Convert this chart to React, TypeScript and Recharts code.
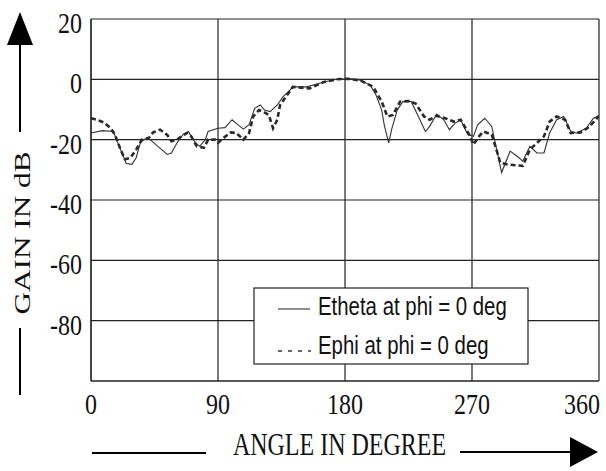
import React from "react";
import { LineChart, Line, XAxis, YAxis, CartesianGrid } from "recharts";

const thetaAngle = [0, 8, 16, 18, 22, 25, 29, 32, 35, 38, 42, 48, 54, 57, 61, 65, 69, 71, 74, 77, 81, 83, 90, 95, 100, 104, 108, 112, 116, 120, 123, 127, 132, 136, 141, 143, 153, 165, 174, 184, 191, 198, 202, 206, 208, 211, 213, 217, 221, 227, 232, 237, 240, 245, 250, 254, 258, 262, 267, 271, 274, 279, 284, 287, 291, 297, 302, 306, 311, 316, 321, 325, 330, 335, 340, 344, 351, 356, 360];
const thetaGain = [-17.8, -17, -17.3, -20, -24.4, -27.9, -28.2, -26, -21, -19.8, -20, -22.5, -24.9, -24.4, -21, -18.4, -17.3, -18.9, -21, -22.2, -20, -17.3, -16.2, -16, -13.4, -15, -16.5, -15, -9.6, -8.5, -10.2, -10.7, -8.5, -5.8, -3.6, -2.5, -2.5, -0.9, 0, 0.2, -0.3, -2, -5.2, -10.2, -15.6, -21.1, -16.7, -10.2, -7.4, -7.4, -12.3, -17.3, -15.6, -11.5, -13.4, -16.7, -14.5, -13.4, -18.3, -18.9, -15.1, -12.9, -15.6, -22.2, -30.9, -23.8, -25.5, -27.1, -22.2, -24.4, -24.4, -17.8, -13.4, -12.3, -17.3, -17.8, -16.2, -12.9, -12.1];

const phiAngle = [0, 4, 9, 14, 17, 21, 24, 28, 32, 36, 41, 44, 49, 54, 57, 61, 64, 68, 71, 75, 80, 83, 88, 90, 94, 99, 103, 108, 112, 115, 119, 122, 126, 129, 132, 134, 139, 143, 155, 165, 174, 182, 191, 200, 206, 210, 214, 219, 225, 230, 236, 240, 245, 251, 257, 262, 268, 271, 275, 278, 284, 288, 290, 295, 301, 306, 311, 316, 321, 325, 330, 336, 340, 347, 353, 360];
const phiGain = [-12.9, -13.4, -14.3, -16.2, -18.4, -23.3, -26.5, -26, -23.3, -20, -19.4, -17.6, -16.7, -18.4, -20.5, -20, -18.9, -17.8, -18.9, -22.2, -22.7, -20, -20, -21.1, -19.4, -17.6, -17.8, -20, -17.8, -12.3, -10.2, -10.7, -11.8, -16.2, -13.4, -8.5, -5.2, -2.5, -3, -0.9, 0, 0.2, -0.4, -2.5, -7.4, -12.3, -11.8, -7.4, -7.2, -8, -12.3, -13.4, -12.1, -12.9, -14, -13.4, -18.3, -21.6, -18.9, -17.3, -18.3, -24.4, -27.6, -28.2, -28.5, -28.7, -23.3, -21.1, -18.9, -14, -12.3, -13.4, -17.8, -17.6, -15.8, -12.1];

const xTicks = [0, 90, 180, 270, 360];
const yTicks = [20, 0, -20, -40, -60, -80];
const seriesNames = ["Etheta at phi = 0 deg", "Ephi at phi = 0 deg"];
const xTitle = "ANGLE IN DEGREE";
const yTitle = "GAIN IN dB";

const thetaData = thetaAngle.map((a, i) => ({ angle: a, gain: thetaGain[i] }));
const phiData = phiAngle.map((a, i) => ({ angle: a, gain: phiGain[i] }));

const SERIF = "'Liberation Serif', 'Times New Roman', serif";
const SANS = "'Liberation Sans', Arial, sans-serif";

const XTick = (props: any) => {
  const { x, y, payload } = props;
  const isLast = payload.value === 360;
  const tx = isLast ? 600 : x;
  return (
    <text
      transform={`translate(${tx},${y + 33}) scale(1,1.25)`}
      x={0}
      y={0}
      textAnchor={isLast ? "end" : "middle"}
      fontFamily={SERIF}
      fontSize={24}
      fill="#111"
    >
      {payload.value}
    </text>
  );
};

const YTick = (props: any) => {
  const { x, y, payload } = props;
  return (
    <text
      transform={`translate(${x},${y + 14}) scale(1,1.25)`}
      x={0}
      y={0}
      textAnchor="end"
      fontFamily={SERIF}
      fontSize={24}
      fill="#111"
    >
      {payload.value}
    </text>
  );
};

export default function App() {
  return (
    <div style={{ position: "absolute", left: 0, top: 0, width: 606, height: 471, background: "#fff" }}>
      <LineChart
        width={606}
        height={471}
        margin={{ top: 19, right: 7, left: 0, bottom: 0 }}
        style={{ background: "#fff" }}
      >
        <CartesianGrid stroke="#222" strokeWidth={1.2} />
        <XAxis
          type="number"
          dataKey="angle"
          domain={[0, 360]}
          ticks={xTicks}
          height={90}
          tickLine={false}
          tickSize={0}
          tickMargin={0}
          axisLine={{ stroke: "#222", strokeWidth: 1.2 }}
          tick={<XTick />}
          interval={0}
          allowDataOverflow
        />
        <YAxis
          type="number"
          domain={[-100, 20]}
          ticks={yTicks}
          width={91}
          tickLine={false}
          tickSize={0}
          tickMargin={9}
          axisLine={{ stroke: "#222", strokeWidth: 1.2 }}
          tick={<YTick />}
          interval={0}
          allowDataOverflow
        />
        <Line
          data={thetaData}
          dataKey="gain"
          name={seriesNames[0]}
          type="linear"
          stroke="#333"
          strokeWidth={1.1}
          dot={false}
          isAnimationActive={false}
        />
        <Line
          data={phiData}
          dataKey="gain"
          name={seriesNames[1]}
          type="linear"
          stroke="#2a2a2a"
          strokeWidth={2.6}
          strokeDasharray="5 3"
          dot={false}
          isAnimationActive={false}
        />
      </LineChart>
      <svg
        width={606}
        height={471}
        style={{ position: "absolute", left: 0, top: 0, pointerEvents: "none" }}
      >
        {/* Y axis title with arrow */}
        <polygon points="20,12 7,45 33,45" fill="#000" />
        <line x1={20} y1={44} x2={20} y2={132} stroke="#000" strokeWidth={2} />
        <line x1={20} y1={328} x2={20} y2={395} stroke="#000" strokeWidth={2} />
        <text
          transform="translate(30,233) rotate(-90) scale(1.3,1)"
          x={0}
          y={0}
          textAnchor="middle"
          fontFamily={SERIF}
          fontSize={24}
          fill="#111"
        >
          {yTitle}
        </text>
        {/* X axis title with arrow */}
        <line x1={92} y1={453} x2={206} y2={453} stroke="#000" strokeWidth={2} />
        <line x1={460} y1={452} x2={572} y2={452} stroke="#000" strokeWidth={2} />
        <polygon points="570,437 598,452 570,467" fill="#000" />
        <text
          transform="translate(339.5,455) scale(1,1.35)"
          x={0}
          y={0}
          textAnchor="middle"
          fontFamily={SERIF}
          fontSize={24}
          fill="#111"
        >
          {xTitle}
        </text>
        {/* Legend */}
        <g transform="translate(254,288)">
          <rect x={0} y={0} width={274} height={76} fill="#fff" stroke="#222" strokeWidth={1.2} />
          <line x1={24} y1={21} x2={56} y2={21} stroke="#333" strokeWidth={1.1} />
          <text
            transform="translate(64,27) scale(1,1.23)"
            x={0}
            y={0}
            fontFamily={SANS}
            fontSize={20.4}
            fill="#111"
          >
            {seriesNames[0]}
          </text>
          <line x1={24} y1={63} x2={57} y2={63} stroke="#333" strokeWidth={1.6} strokeDasharray="4 6" />
          <text
            transform="translate(64,66) scale(1,1.23)"
            x={0}
            y={0}
            fontFamily={SANS}
            fontSize={20.4}
            fill="#111"
          >
            {seriesNames[1]}
          </text>
        </g>
      </svg>
    </div>
  );
}
